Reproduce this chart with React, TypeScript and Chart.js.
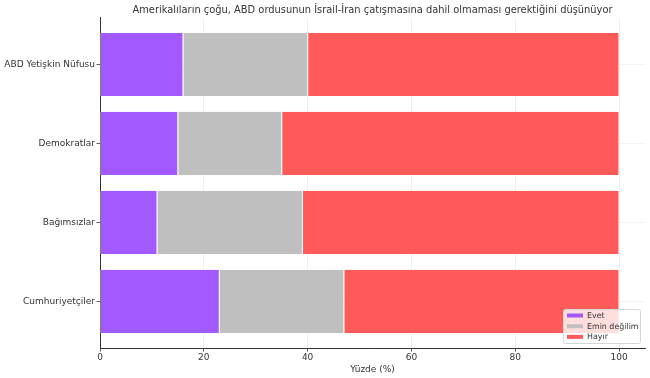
import React, { useEffect, useRef } from "react";
import { Chart, registerables } from "chart.js";

Chart.register(...registerables);

const categories = ["ABD Yetişkin Nüfusu", "Demokratlar", "Bağımsızlar", "Cumhuriyetçiler"];
const evet = [16, 15, 11, 23];
const eminDegilim = [24, 20, 28, 24];
const hayir = [60, 65, 61, 53];
const xTicks = [0, 20, 40, 60, 80, 100];
const seriesNames = ["Evet", "Emin değilim", "Hayır"];
const titleText = "Amerikalıların çoğu, ABD ordusunun İsrail-İran çatışmasına dahil olmaması gerektiğini düşünüyor";
const xTitle = "Yüzde (%)";

const colors = ["#A259FF", "#BFBFBF", "#FF5A5A"];
const FONT = "'DejaVu Sans', sans-serif";

const legendPlugin = {
  id: "innerLegend",
  afterDraw(chart: any) {
    const ctx = chart.ctx;
    const area = chart.chartArea;
    const w = 77;
    const h = 34;
    const x = area.right - 82;
    const y = area.bottom - 39;
    ctx.save();
    ctx.fillStyle = "rgba(255,255,255,0.8)";
    ctx.strokeStyle = "#d6d6d6";
    ctx.lineWidth = 1;
    ctx.beginPath();
    (ctx as any).roundRect(x + 0.5, y + 0.5, w, h, 2);
    ctx.fill();
    ctx.stroke();
    ctx.font = `7.9px ${FONT}`;
    ctx.textBaseline = "middle";
    ctx.textAlign = "left";
    chart.data.datasets.forEach((ds: any, i: number) => {
      const cy = y + 6.5 + i * 10.7;
      ctx.fillStyle = ds.backgroundColor;
      ctx.fillRect(x + 4, cy - 2, 16, 4);
      ctx.fillStyle = "#333";
      ctx.fillText(ds.label, x + 24, cy + 0.5);
    });
    ctx.restore();
  },
};

export default function App() {
  const ref = useRef<HTMLCanvasElement>(null);
  useEffect(() => {
    const mk = (vals: number[]) => vals.map((v, i) => ({ x: v, y: i }));
    const chart = new Chart(ref.current!, {
      type: "bar",
      data: {
        datasets: [
          { label: seriesNames[0], data: mk(evet), backgroundColor: colors[0] },
          { label: seriesNames[1], data: mk(eminDegilim), backgroundColor: colors[1] },
          { label: seriesNames[2], data: mk(hayir), backgroundColor: colors[2] },
        ].map((d) => ({
          ...d,
          borderColor: "#ffffff",
          borderWidth: { left: 0.6, right: 0.6, top: 0, bottom: 0 },
          borderSkipped: false,
          barPercentage: 0.8,
          categoryPercentage: 1,
        })) as any,
      },
      options: {
        indexAxis: "y",
        animation: false,
        responsive: false,
        maintainAspectRatio: false,
        layout: { padding: { left: 0, right: 5, top: 0, bottom: 3 } },
        plugins: {
          legend: { display: false },
          tooltip: { enabled: false },
          title: {
            display: true,
            text: titleText,
            fullSize: false,
            color: "#333",
            font: { family: FONT, size: 9.9, weight: "normal" },
            padding: { top: 4, bottom: 2 },
          },
        },
        scales: {
          x: {
            type: "linear",
            stacked: true,
            min: 0,
            max: 105,
            z: 1,
            afterBuildTicks: (s: any) => {
              s.ticks = xTicks.map((v) => ({ value: v }));
            },
            afterFit: (s: any) => {
              s.height = 27;
            },
            grid: {
              color: "rgba(0,0,0,0.08)",
              lineWidth: 0.8,
              drawTicks: true,
              tickLength: 3.5,
              tickColor: "#333",
            },
            border: { display: true, color: "#333", width: 1 },
            ticks: {
              color: "#333",
              font: { family: FONT, size: 9 },
              padding: 1,
              maxRotation: 0,
            },
            title: {
              display: true,
              text: xTitle,
              color: "#333",
              font: { family: FONT, size: 9 },
              padding: { top: 0, bottom: 0 },
            },
          },
          y: {
            type: "linear",
            stacked: true,
            reverse: true,
            offset: false,
            min: -0.59,
            max: 3.59,
            z: 1,
            afterBuildTicks: (s: any) => {
              s.ticks = categories.map((_, i) => ({ value: i }));
            },
            afterFit: (s: any) => {
              s.width = 100;
            },
            grid: {
              offset: false,
              color: "rgba(0,0,0,0.06)",
              lineWidth: 0.8,
              drawTicks: true,
              tickLength: 3.5,
              tickColor: "#333",
            },
            border: { display: true, color: "#333", width: 1 },
            ticks: {
              color: "#333",
              font: { family: FONT, size: 9 },
              padding: 1.5,
              callback: (v: any) => categories[v as number] ?? "",
            },
          },
        },
      },
      plugins: [legendPlugin],
    });
    return () => chart.destroy();
  }, []);
  return (
    <canvas
      ref={ref}
      width={650}
      height={378}
      style={{ position: "absolute", left: 0, top: 0, width: 650, height: 378 }}
    />
  );
}
